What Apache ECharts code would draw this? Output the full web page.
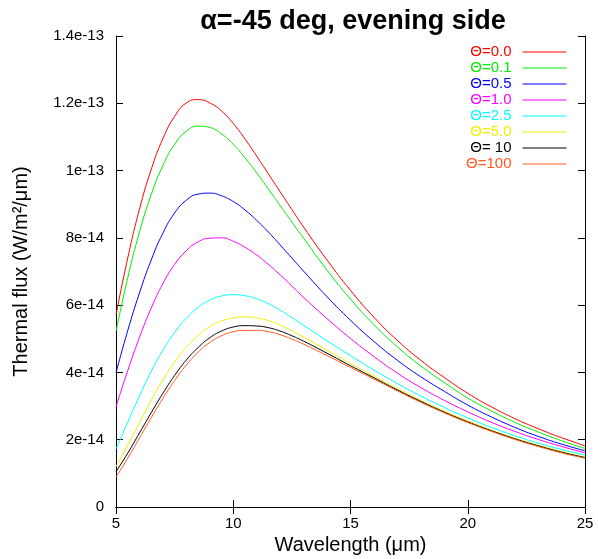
<!DOCTYPE html>
<html>
<head>
<meta charset="utf-8">
<script src="https://cdn.jsdelivr.net/npm/echarts@6/dist/echarts.min.js"></script>
<style>
  html, body { margin: 0; padding: 0; background: #fff; }
  #chart { width: 598px; height: 559px; }
</style>
</head>
<body>
<div id="chart"></div>
<script>
// wavelength grid (um)
const wavelength = [5, 5.5, 6, 6.5, 7, 7.5, 8, 8.5, 9, 9.5, 10, 10.5, 11, 11.5, 12, 12.5, 13, 14, 15, 16, 17, 18, 19, 20, 21, 22, 23, 24, 25];

// flux values, in units of 1e-14 W/m^2/um
const theta00 = [5.7, 7.4, 8.85, 10.03, 10.95, 11.61, 12.01, 12.11, 12.01, 11.77, 11.4, 10.94, 10.43, 9.9, 9.37, 8.84, 8.32, 7.34, 6.44, 5.64, 4.95, 4.36, 3.85, 3.38, 2.98, 2.63, 2.33, 2.06, 1.82];
const theta01 = [5.21, 6.81, 8.17, 9.28, 10.15, 10.78, 11.17, 11.32, 11.28, 11.09, 10.78, 10.38, 9.93, 9.45, 8.96, 8.47, 7.99, 7.04, 6.18, 5.42, 4.76, 4.19, 3.7, 3.24, 2.86, 2.52, 2.23, 1.97, 1.74];
const theta05 = [3.99, 5.24, 6.36, 7.34, 8.14, 8.74, 9.12, 9.3, 9.33, 9.25, 9.08, 8.83, 8.52, 8.17, 7.79, 7.4, 7.01, 6.25, 5.55, 4.92, 4.36, 3.87, 3.44, 3.03, 2.68, 2.37, 2.1, 1.87, 1.67];
const theta10 = [2.98, 4.05, 5.04, 5.91, 6.64, 7.21, 7.62, 7.88, 7.99, 8.0, 7.9, 7.72, 7.49, 7.21, 6.9, 6.57, 6.23, 5.6, 5.01, 4.47, 3.98, 3.55, 3.17, 2.83, 2.52, 2.25, 2.01, 1.8, 1.61];
const theta25 = [1.72, 2.52, 3.3, 4.03, 4.66, 5.19, 5.61, 5.93, 6.15, 6.27, 6.31, 6.28, 6.19, 6.04, 5.85, 5.63, 5.4, 4.94, 4.5, 4.07, 3.67, 3.3, 2.96, 2.65, 2.37, 2.12, 1.9, 1.71, 1.54];
const theta50 = [1.2, 1.84, 2.51, 3.17, 3.78, 4.31, 4.75, 5.1, 5.36, 5.53, 5.62, 5.65, 5.62, 5.54, 5.41, 5.24, 5.05, 4.66, 4.27, 3.89, 3.52, 3.17, 2.85, 2.56, 2.29, 2.05, 1.84, 1.65, 1.48];
const theta10x = [1.05, 1.6, 2.2, 2.8, 3.38, 3.91, 4.37, 4.74, 5.03, 5.23, 5.35, 5.39, 5.38, 5.33, 5.23, 5.09, 4.93, 4.57, 4.2, 3.84, 3.48, 3.14, 2.82, 2.53, 2.27, 2.03, 1.82, 1.63, 1.47];
const theta100 = [0.89, 1.45, 2.05, 2.65, 3.23, 3.76, 4.22, 4.6, 4.89, 5.09, 5.21, 5.25, 5.25, 5.21, 5.12, 4.99, 4.84, 4.5, 4.15, 3.8, 3.45, 3.11, 2.8, 2.51, 2.25, 2.01, 1.8, 1.61, 1.45];

const seriesNames = ['\u0398=0.0', '\u0398=0.1', '\u0398=0.5', '\u0398=1.0', '\u0398=2.5', '\u0398=5.0', '\u0398= 10', '\u0398=100'];
const seriesValues = [theta00, theta01, theta05, theta10, theta25, theta50, theta10x, theta100];
const seriesColors = ['#ff0000', '#00ee00', '#0000ff', '#ff00ff', '#00ffff', '#f0f000', '#000000', '#ff5a1e'];

const yTickLabels = ['0', '2e-14', '4e-14', '6e-14', '8e-14', '1e-13', '1.2e-13', '1.4e-13'];

const myChart = echarts.init(document.getElementById('chart'));

const axisFont = 'Liberation Sans, Arial, Helvetica, sans-serif';

const option = {
  backgroundColor: '#fff',
  animation: false,
  title: {
    text: '\u03b1=-45 deg, evening side',
    left: 348,
    textAlign: 'center',
    top: 3,
    textStyle: { fontFamily: axisFont, fontWeight: 'bold', fontSize: 27, color: '#000' }
  },
  legend: {
    orient: 'vertical',
    right: 26,
    top: 39,
    align: 'right',
    itemGap: 0,
    itemWidth: 44,
    itemHeight: 14,
    itemStyle: { opacity: 0 },
    lineStyle: { width: 1 },
    textStyle: { fontFamily: axisFont, fontSize: 15, lineHeight: 16, width: 52, align: 'right', padding: [0, 6, 0, 0] },
    data: seriesNames.map((n, i) => ({
      name: n,
      textStyle: { color: seriesColors[i] }
    }))
  },
  grid: { left: 116, right: 13, top: 36, bottom: 52, outerBoundsMode: 'none' },
  xAxis: [
    {
      type: 'value',
      min: 5, max: 25, interval: 5,
      name: 'Wavelength (\u03bcm)',
      nameLocation: 'middle',
      nameGap: 26,
      nameTextStyle: { fontFamily: axisFont, fontSize: 20, color: '#000' },
      axisLine: { lineStyle: { color: '#000', width: 1 } },
      axisTick: { inside: true, length: 7, lineStyle: { color: '#000' } },
      axisLabel: { fontFamily: axisFont, fontSize: 15, color: '#000', margin: 9 },
      splitLine: { show: false }
    },
    {
      type: 'value',
      position: 'top',
      min: 5, max: 25, interval: 5,
      axisLine: { show: true, lineStyle: { color: '#000', width: 1 } },
      axisTick: { inside: true, length: 7, lineStyle: { color: '#000' } },
      axisLabel: { show: false },
      splitLine: { show: false }
    }
  ],
  yAxis: [
    {
      type: 'value',
      min: 0, max: 14, interval: 2,
      name: 'Thermal flux (W/m\u00b2/\u03bcm)',
      nameLocation: 'middle',
      nameGap: 85,
      nameRotate: 90,
      nameTextStyle: { fontFamily: axisFont, fontSize: 20, color: '#000' },
      axisLine: { show: true, lineStyle: { color: '#000', width: 1 } },
      axisTick: { show: true, inside: true, length: 7, lineStyle: { color: '#000' } },
      axisLabel: {
        fontFamily: axisFont, fontSize: 15, color: '#000', margin: 12,
        formatter: v => yTickLabels[Math.round(v / 2)]
      },
      splitLine: { show: false }
    },
    {
      type: 'value',
      position: 'right',
      min: 0, max: 14, interval: 2,
      axisLine: { show: true, lineStyle: { color: '#000', width: 1 } },
      axisTick: { show: true, inside: true, length: 7, lineStyle: { color: '#000' } },
      axisLabel: { show: false },
      splitLine: { show: false }
    }
  ],
  series: seriesNames.map((n, i) => ({
    name: n,
    type: 'line',
    smooth: 0.5,
    symbol: 'none',
    color: seriesColors[i],
    itemStyle: { color: seriesColors[i] },
    lineStyle: { width: 1, color: seriesColors[i] },
    data: wavelength.map((w, j) => [w, seriesValues[i][j]])
  }))
};

myChart.setOption(option);
window.onresize = () => {
  myChart.resize()
}
</script>
</body>
</html>
